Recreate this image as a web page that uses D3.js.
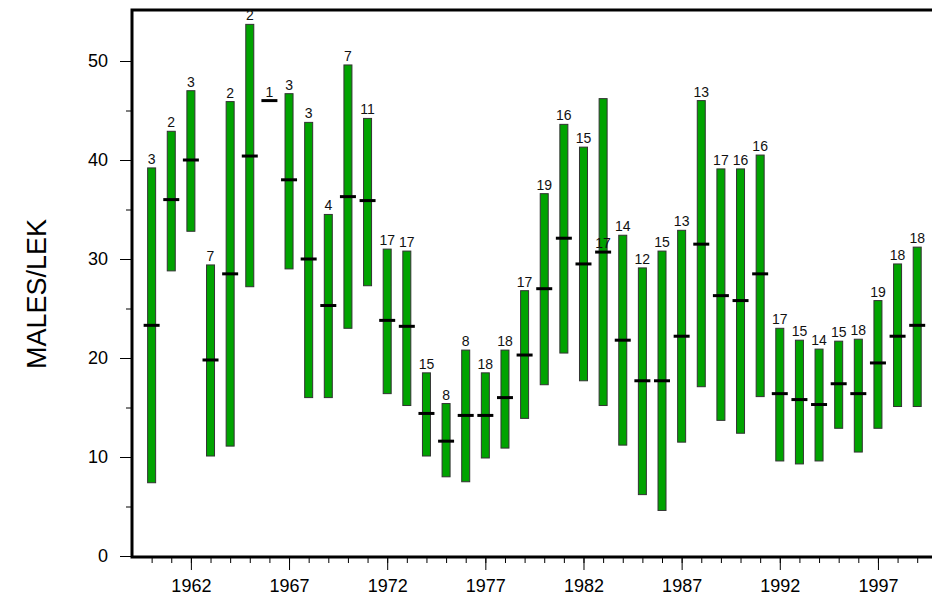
<!DOCTYPE html>
<html>
<head>
<meta charset="utf-8">
<script src="https://cdn.jsdelivr.net/npm/d3@7"></script>
<style>
  body { margin: 0; background: #fff; }
  svg { display: block; font-family: "Liberation Sans", Arial, sans-serif; }
</style>
</head>
<body>
<svg id="chart" width="932" height="605"></svg>
<script>
// yearly lek counts: range (low/high), mean, number of leks
var years = d3.range(1960, 2000);
var lows  = [7.4, 28.8, 32.8, 10.1, 11.1, 27.2, 46.0, 29.0, 16.0, 16.0,
             23.0, 27.3, 16.4, 15.2, 10.1, 8.0, 7.5, 9.9, 10.9, 13.9,
             17.3, 20.5, 17.7, 15.2, 11.2, 6.2, 4.6, 11.5, 17.1, 13.7,
             12.4, 16.1, 9.6, 9.3, 9.6, 12.9, 10.5, 12.9, 15.1, 15.1];
var highs = [39.2, 42.9, 47.0, 29.4, 45.9, 53.7, 46.0, 46.7, 43.8, 34.5,
             49.6, 44.2, 31.0, 30.8, 18.5, 15.4, 20.8, 18.5, 20.8, 26.8,
             36.6, 43.6, 41.3, 46.2, 32.4, 29.1, 30.8, 32.9, 46.0, 39.1,
             39.1, 40.5, 23.0, 21.8, 20.9, 21.7, 21.9, 25.8, 29.5, 31.2];
var means = [23.3, 36.0, 40.0, 19.8, 28.5, 40.4, 46.0, 38.0, 30.0, 25.3,
             36.3, 35.9, 23.8, 23.2, 14.4, 11.6, 14.2, 14.2, 16.0, 20.3,
             27.0, 32.1, 29.5, 30.7, 21.8, 17.7, 17.7, 22.2, 31.5, 26.3,
             25.8, 28.5, 16.4, 15.8, 15.3, 17.4, 16.4, 19.5, 22.2, 23.3];
var counts = [3, 2, 3, 7, 2, 2, 1, 3, 3, 4,
              7, 11, 17, 17, 15, 8, 8, 18, 18, 17,
              19, 16, 15, 17, 14, 12, 15, 13, 13, 17,
              16, 16, 17, 15, 14, 15, 18, 19, 18, 18];
// years whose count label sits on the mean marker instead of the bar top
var labelOnMean = [1983];
var yTicks = [0, 10, 20, 30, 40, 50];
var xTicks = [1962, 1967, 1972, 1977, 1982, 1987, 1992, 1997];

var svg = d3.select("#chart");
var mLeft = 132, mTop = 10, mBottom = 557;

var x = d3.scaleLinear().domain([1959, 2000]).range([mLeft, mLeft + 41 * 19.63]);
var y = d3.scaleLinear().domain([0, 50]).range([mBottom - 1, mBottom - 1 - 495]);

// minor ticks
svg.append("g")
  .attr("transform", "translate(" + mLeft + ",0)")
  .call(d3.axisLeft(y).tickValues(d3.range(5, 55, 10)).tickSize(6).tickFormat(""))
  .call(function(g) { g.select(".domain").remove(); });
svg.append("g")
  .attr("transform", "translate(0," + mBottom + ")")
  .call(d3.axisBottom(x).tickValues(years).tickSize(6).tickFormat(""))
  .call(function(g) { g.select(".domain").remove(); });

// major ticks
var yAxis = svg.append("g")
  .attr("transform", "translate(" + mLeft + ",0)")
  .call(d3.axisLeft(y).tickValues(yTicks).tickSize(12).tickPadding(12));
yAxis.select(".domain").remove();
yAxis.selectAll("text").style("font-size", "18px").attr("fill", "#000");

var xAxis = svg.append("g")
  .attr("transform", "translate(0," + mBottom + ")")
  .call(d3.axisBottom(x).tickValues(xTicks).tickSize(13).tickPadding(9).tickFormat(d3.format("d")));
xAxis.select(".domain").remove();
xAxis.selectAll("text").style("font-size", "18px").attr("fill", "#000");

svg.selectAll(".tick line").attr("stroke", "#000");

// frame: left, top and bottom lines
svg.append("path")
  .attr("d", "M932," + mTop + "H" + mLeft + "V" + mBottom + "H932")
  .attr("fill", "none")
  .attr("stroke", "#000")
  .attr("stroke-width", 3);

var bw = 8;
var idx = d3.range(years.length);

svg.append("g").selectAll("rect")
  .data(idx.filter(function(i) { return highs[i] > lows[i]; }))
  .enter().append("rect")
  .attr("x", function(i) { return x(years[i]) - bw / 2; })
  .attr("y", function(i) { return y(highs[i]); })
  .attr("width", bw)
  .attr("height", function(i) { return y(lows[i]) - y(highs[i]); })
  .attr("fill", "#00a300")
  .attr("stroke", "#333")
  .attr("stroke-width", 1);

svg.append("g").selectAll("line")
  .data(idx)
  .enter().append("line")
  .attr("x1", function(i) { return x(years[i]) - 8; })
  .attr("x2", function(i) { return x(years[i]) + 8; })
  .attr("y1", function(i) { return y(means[i]); })
  .attr("y2", function(i) { return y(means[i]); })
  .attr("stroke", "#000")
  .attr("stroke-width", 3);

svg.append("g").selectAll("text")
  .data(idx)
  .enter().append("text")
  .attr("x", function(i) { return x(years[i]); })
  .attr("y", function(i) {
    var v = labelOnMean.indexOf(years[i]) >= 0 || highs[i] <= lows[i] ? means[i] : highs[i];
    return y(v) - 4;
  })
  .attr("text-anchor", "middle")
  .style("font-size", "14px")
  .attr("fill", "#111")
  .text(function(i) { return counts[i]; });

svg.append("text")
  .attr("transform", "translate(46,294) rotate(-90)")
  .attr("text-anchor", "middle")
  .style("font-size", "27px")
  .attr("fill", "#000")
  .text("MALES/LEK");
</script>
</body>
</html>
